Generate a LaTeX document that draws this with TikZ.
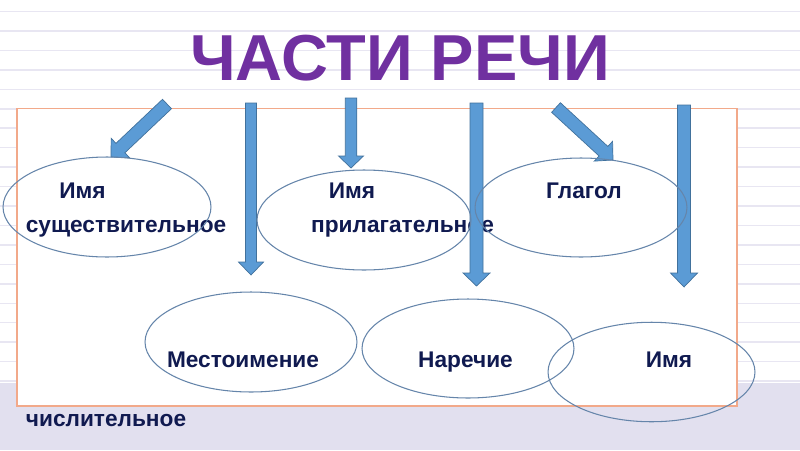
\documentclass[tikz,border=0pt]{standalone}
\usepackage{fontspec}
\setmainfont{Liberation Sans}
\usetikzlibrary{calc,shapes.geometric}
\definecolor{titlepurple}{HTML}{7030A0}
\definecolor{navy}{HTML}{101A50}
\definecolor{arrowfill}{HTML}{5B9BD5}
\definecolor{arrowline}{HTML}{41719C}
\definecolor{ellline}{HTML}{6585AA}
\definecolor{rectline}{HTML}{F2A98A}
\definecolor{ruled}{HTML}{E8E6F2}
\definecolor{bandcol}{HTML}{E2E0EF}
\newcommand\blockarrow[5]{%
  \coordinate (#2b) at ($(#2)!#5!(#1)$);
  \filldraw[arrowsty] ($(#1)!#3!90:(#2)$) -- ($(#2b)!#3!90:(#2)$) -- ($(#2b)!#4!90:(#2)$) -- (#2) -- ($(#2b)!#4!-90:(#2)$) -- ($(#2b)!#3!-90:(#2)$) -- ($(#1)!#3!-90:(#2)$) -- cycle;
}
\tikzset{
  arrowsty/.style={fill=arrowfill, draw=arrowline, line width=0.4pt},
  partell/.style={ellipse, draw=ellline, line width=0.6pt, inner sep=0pt},
  label/.style={font=\fontsize{12.9}{15}\selectfont\bfseries, text=navy, anchor=base, inner sep=0pt},
}
\begin{document}
\begin{tikzpicture}[x=0.02cm,y=-0.02cm]
\useasboundingbox (0,0) rectangle (800,450);
\fill[white] (0,0) rectangle (800,450);
\foreach \k in {0,...,19}{
  \pgfmathsetmacro\yy{11.5+19.45*\k}
  \draw[ruled, line width=0.85pt] (0,\yy) -- (800,\yy);
}
\fill[bandcol] (0,383) rectangle (800,450);
\draw[rectline, fill=white, line width=0.9pt] (17,108.5) rectangle (737,406);
\node[font=\fontsize{37}{42}\selectfont\bfseries, text=titlepurple, anchor=base, inner sep=0pt] (title) at (400,80) {ЧАСТИ РЕЧИ};
% labels
\node[label] (t1a) at (82.5,198) {Имя};
\node[label] (t1b) at (126,232.7) {существительное};
\node[label] (t2a) at (352,198) {Имя};
\node[label] (t2b) at (402.5,232) {прилагательное};
\node[label] (t3) at (584,198) {Глагол};
\node[label] (t4) at (243,367.7) {Местоимение};
\node[label] (t5) at (465.5,367.7) {Наречие};
\node[label] (t6a) at (669,367.7) {Имя};
\node[label] (t6b) at (106,426.7) {числительное};
% arrows
\coordinate (a1s) at (167,104); \coordinate (a1e) at (111,157);
\coordinate (a2s) at (251,103); \coordinate (a2e) at (251,275);
\coordinate (a3s) at (351,98);  \coordinate (a3e) at (351,168);
\coordinate (a4s) at (476.5,103); \coordinate (a4e) at (476.5,286);
\coordinate (a5s) at (556,107.5); \coordinate (a5e) at (613,160);
\coordinate (a6s) at (684,105); \coordinate (a6e) at (684,287);
\blockarrow{a1s}{a1e}{0.13cm}{0.27cm}{0.26cm}
\blockarrow{a2s}{a2e}{0.11cm}{0.25cm}{0.26cm}
\blockarrow{a3s}{a3e}{0.115cm}{0.25cm}{0.24cm}
\blockarrow{a4s}{a4e}{0.13cm}{0.27cm}{0.26cm}
\blockarrow{a5s}{a5e}{0.13cm}{0.27cm}{0.26cm}
\blockarrow{a6s}{a6e}{0.13cm}{0.27cm}{0.28cm}
% ellipses
\node[partell, minimum width=4.16cm, minimum height=2.0cm] (e1) at (107,207) {};
\node[partell, minimum width=4.28cm, minimum height=2.0cm] (e2) at (364,220) {};
\node[partell, minimum width=4.24cm, minimum height=1.98cm] (e3) at (581,207.5) {};
\node[partell, minimum width=4.24cm, minimum height=2.0cm] (e4) at (251,342) {};
\node[partell, minimum width=4.24cm, minimum height=1.98cm] (e5) at (468,348.5) {};
\node[partell, minimum width=4.14cm, minimum height=1.99cm] (e6) at (651.5,372) {};
\end{tikzpicture}
\end{document}
